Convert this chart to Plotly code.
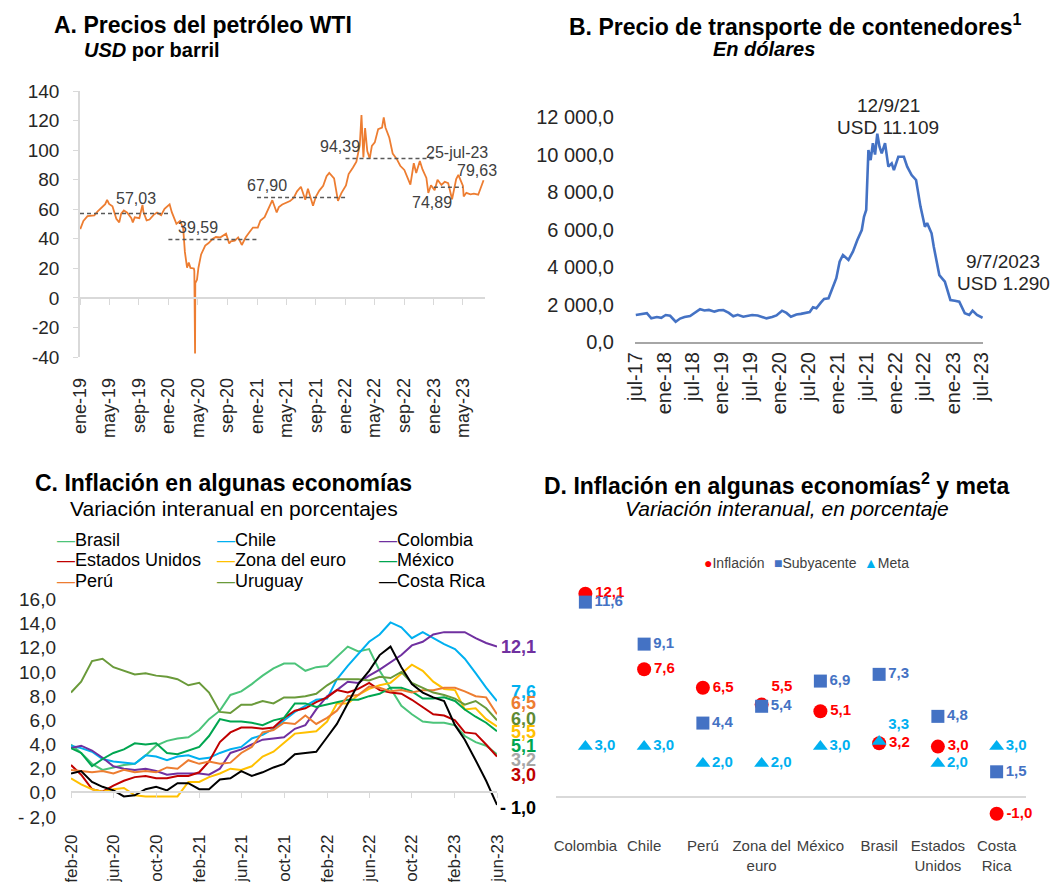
import plotly.graph_objects as go
import pandas as pd

W, H = 1063, 882
def px(x): return x / W
def py(y): return 1 - y / H

FONT = "Liberation Sans, Arial, sans-serif"
NARROW = "Liberation Sans, Arial, sans-serif"
TXT = "#262626"

# ---------------- A. WTI ----------------
wti_dates = [
    "2019-01-02","2019-01-15","2019-02-01","2019-02-15","2019-03-01","2019-03-15","2019-04-01","2019-04-15","2019-04-23","2019-05-01",
    "2019-05-15","2019-05-31","2019-06-12","2019-06-20","2019-07-01","2019-07-15","2019-08-01","2019-08-07","2019-08-15","2019-09-03",
    "2019-09-16","2019-09-20","2019-10-03","2019-10-15","2019-11-01","2019-11-15","2019-12-02","2019-12-16",
    "2020-01-06","2020-01-15","2020-02-03","2020-02-18","2020-03-02","2020-03-09","2020-03-18","2020-03-25","2020-04-01","2020-04-15",
    "2020-04-17","2020-04-20","2020-04-21","2020-04-28","2020-05-04","2020-05-15","2020-06-01","2020-06-15","2020-07-01","2020-07-15",
    "2020-08-03","2020-08-14","2020-08-26","2020-09-08","2020-09-15","2020-10-01","2020-10-15","2020-10-30","2020-11-16","2020-12-01","2020-12-15",
    "2021-01-04","2021-01-15","2021-02-01","2021-02-16","2021-03-05","2021-03-23","2021-04-01","2021-04-15","2021-05-03","2021-05-17",
    "2021-06-01","2021-06-15","2021-07-01","2021-07-19","2021-07-30","2021-08-20","2021-09-01","2021-09-15","2021-10-01","2021-10-15",
    "2021-10-26","2021-11-15","2021-12-01","2021-12-15",
    "2022-01-03","2022-01-14","2022-02-01","2022-02-15","2022-03-01","2022-03-08","2022-03-16","2022-03-23","2022-04-01","2022-04-11",
    "2022-04-20","2022-05-02","2022-05-16","2022-06-01","2022-06-08","2022-06-15","2022-07-01","2022-07-15","2022-08-01","2022-08-15",
    "2022-09-01","2022-09-26","2022-10-10","2022-10-20","2022-11-04","2022-11-15","2022-12-01","2022-12-09","2022-12-20",
    "2023-01-04","2023-01-16","2023-02-01","2023-02-15","2023-03-01","2023-03-17","2023-04-03","2023-04-12","2023-05-01","2023-05-04",
    "2023-05-15","2023-06-01","2023-06-15","2023-07-03","2023-07-14","2023-07-25"]
wti_values = [
    46.5, 52.1, 55.3, 55.6, 55.8, 58.5, 61.6, 63.4, 66.3, 63.6,
    62.0, 53.5, 51.1, 57.0, 59.1, 57.6, 53.9, 51.1, 54.5, 53.9,
    62.9, 58.1, 52.5, 53.0, 56.2, 57.7, 56.0, 60.2,
    63.3, 58.0, 50.1, 52.1, 47.0, 31.1, 20.4, 24.0, 20.3, 19.9,
    18.3, -37.6, 10.0, 12.3, 20.4, 29.4, 35.4, 37.1, 39.8, 41.2,
    41.0, 42.0, 43.4, 36.8, 38.3, 38.7, 40.9, 35.8, 41.3, 44.6, 47.6,
    47.6, 52.4, 54.6, 60.0, 66.1, 57.8, 61.4, 63.2, 64.5, 65.5,
    67.7, 72.1, 75.2, 66.4, 73.9, 62.3, 68.6, 72.6, 75.9, 82.3,
    84.6, 80.9, 65.6, 70.9,
    76.1, 83.8, 88.2, 92.1, 103.4, 123.7, 95.0, 114.9, 99.3, 94.3,
    102.8, 105.2, 114.2, 115.3, 122.1, 115.3, 108.4, 97.6, 93.9, 89.4,
    86.6, 76.7, 91.1, 84.5, 92.6, 86.9, 81.2, 71.0, 76.2,
    72.8, 79.9, 76.4, 78.6, 77.7, 66.7, 80.4, 83.3, 75.7, 68.6,
    71.1, 70.1, 70.6, 69.8, 75.4, 79.6]
avg_starts = ["2019-01-01", "2020-01-01", "2021-01-01", "2022-01-01", "2023-01-01"]
avg_ends = ["2019-12-31", "2020-12-31", "2021-12-31", "2022-12-31", "2023-04-30"]
avg_values = [57.03, 39.59, 67.90, 94.39, 74.89]
wti_last_label = "25-jul-23"
wti_last_value = 79.63

# ---------------- B. Containers ----------------
cont_dates = [
    "2017-07-06","2017-08-10","2017-09-14","2017-10-12","2017-11-16","2017-12-14","2018-01-11","2018-02-08","2018-03-15","2018-04-12",
    "2018-05-10","2018-06-14","2018-07-12","2018-08-16","2018-09-13","2018-10-11","2018-11-15","2018-12-13","2019-01-10","2019-02-14",
    "2019-03-14","2019-04-11","2019-05-16","2019-06-13","2019-07-11","2019-08-15","2019-09-12","2019-10-10","2019-11-14","2019-12-12",
    "2020-01-16","2020-02-13","2020-03-12","2020-04-16","2020-05-14","2020-06-11","2020-07-09","2020-07-30","2020-08-20","2020-09-17",
    "2020-10-08","2020-11-05","2020-12-03","2020-12-24","2021-01-14","2021-02-04","2021-03-11","2021-04-08","2021-05-06","2021-06-03",
    "2021-06-17","2021-07-01","2021-07-15","2021-07-29","2021-08-12","2021-08-26","2021-09-09","2021-09-23","2021-10-07","2021-10-28",
    "2021-11-18","2021-12-09","2021-12-23","2022-01-20","2022-02-24","2022-03-17","2022-04-14","2022-05-12","2022-06-09","2022-07-07",
    "2022-07-21","2022-08-18","2022-09-01","2022-10-06","2022-11-10","2022-12-15","2023-01-12","2023-02-09","2023-03-16","2023-04-13",
    "2023-05-04","2023-06-01","2023-07-06"]
cont_values = [
    1440, 1480, 1540, 1260, 1330, 1290, 1440, 1400, 1080, 1250,
    1330, 1380, 1550, 1750, 1680, 1710, 1620, 1690, 1700, 1550,
    1370, 1450, 1350, 1400, 1440, 1410, 1330, 1260, 1330, 1420,
    1670, 1550, 1350, 1470, 1500, 1530, 1600, 1850, 1800, 2100,
    2300, 2330, 2900, 3400, 4280, 4640, 4380, 4820, 5440, 5970,
    6680, 7040, 10240, 9700, 10600, 10000, 11109, 10420, 10060, 10600,
    9350, 9530, 9170, 9880, 9880, 9350, 8900, 8640, 7220, 6150,
    6340, 5800, 5080, 3570, 3220, 2240, 2200, 2150, 1530, 1440,
    1670, 1440, 1290]

# ---------------- C. Inflation lines ----------------
c_months = pd.date_range("2020-02-01", periods=41, freq="MS")
c_series = {
    "Brasil": [4.0, 3.3, 2.4, 1.9, 2.1, 2.3, 2.4, 3.1, 3.9, 4.3, 4.5, 4.6, 5.2, 6.1, 6.8, 8.1, 8.4, 9.0, 9.7, 10.3,
               10.7, 10.7, 10.1, 10.4, 10.5, 11.3, 12.1, 11.7, 11.9, 10.1, 8.7, 7.2, 6.5, 5.9, 5.8, 5.8, 5.6, 4.7, 4.2, 3.9, 3.2],
    "Chile": [3.9, 3.7, 3.4, 2.8, 2.6, 2.5, 2.4, 3.1, 3.0, 2.7, 3.0, 3.1, 2.8, 2.9, 3.3, 3.6, 3.8, 4.5, 4.8, 5.3,
              6.0, 6.7, 7.2, 7.7, 7.8, 9.4, 10.5, 11.5, 12.5, 13.1, 14.1, 13.7, 12.8, 13.3, 12.8, 12.3, 11.9, 11.1, 9.9, 8.7, 7.6],
    "Colombia": [3.7, 3.9, 3.5, 2.9, 2.2, 2.0, 1.9, 2.0, 1.8, 1.5, 1.6, 1.6, 1.6, 1.5, 2.0, 3.3, 3.6, 4.0, 4.4, 4.5,
                 4.6, 5.3, 5.6, 6.9, 8.0, 8.5, 9.2, 9.1, 9.7, 10.2, 10.8, 11.4, 12.2, 12.5, 13.1, 13.3, 13.3, 13.3, 12.8, 12.4, 12.1],
    "Estados Unidos": [2.3, 1.5, 0.3, 0.1, 0.6, 1.0, 1.3, 1.4, 1.2, 1.2, 1.4, 1.4, 1.7, 2.6, 4.2, 5.0, 5.4, 5.4, 5.3, 5.4,
                       6.2, 6.8, 7.0, 7.5, 7.9, 8.5, 8.3, 8.6, 9.1, 8.5, 8.3, 8.2, 7.7, 7.1, 6.5, 6.4, 6.0, 5.0, 4.9, 4.0, 3.0],
    "Zona del euro": [1.2, 0.7, 0.3, 0.1, 0.3, 0.4, -0.2, -0.3, -0.3, -0.3, -0.3, 0.9, 0.9, 1.3, 1.6, 2.0, 1.9, 2.2, 3.0, 3.4,
                      4.1, 4.9, 5.0, 5.1, 5.9, 7.4, 7.4, 8.1, 8.6, 8.9, 9.1, 9.9, 10.6, 10.1, 9.2, 8.6, 8.5, 6.9, 7.0, 6.1, 5.5],
    "México": [3.7, 3.3, 2.2, 2.8, 3.3, 3.6, 4.1, 4.0, 4.1, 3.3, 3.2, 3.5, 3.8, 4.7, 6.1, 5.9, 5.9, 5.8, 5.6, 6.0,
               6.2, 7.4, 7.4, 7.1, 7.3, 7.5, 7.7, 7.7, 8.0, 8.2, 8.7, 8.7, 8.4, 7.8, 7.8, 7.9, 7.6, 6.9, 6.3, 5.8, 5.1],
    "Perú": [1.9, 1.8, 1.7, 1.8, 1.6, 1.9, 1.7, 1.8, 1.7, 2.1, 2.0, 2.7, 2.4, 2.6, 2.4, 2.5, 3.3, 3.8, 5.0, 5.2,
             5.8, 5.7, 6.4, 5.7, 6.2, 6.8, 8.0, 8.1, 8.8, 8.7, 8.4, 8.5, 8.3, 8.5, 8.5, 8.7, 8.7, 8.4, 8.0, 7.9, 6.5],
    "Uruguay": [8.3, 9.2, 10.9, 11.1, 10.4, 10.1, 9.8, 9.9, 9.7, 9.6, 9.4, 8.9, 9.1, 8.3, 6.7, 6.6, 7.3, 7.3, 7.6, 7.4,
                7.9, 7.9, 8.0, 8.2, 8.9, 9.4, 9.4, 9.4, 9.3, 9.6, 9.5, 10.0, 9.1, 8.7, 8.3, 8.1, 7.8, 7.3, 7.6, 7.0, 6.0],
    "Costa Rica": [1.6, 1.8, 0.9, 0.5, 0.2, -0.3, -0.2, 0.3, 0.5, 0.2, 0.8, 0.8, 0.3, 0.3, 1.1, 1.2, 1.8, 1.4, 1.7, 2.1,
                   2.4, 3.2, 3.3, 3.4, 4.6, 5.7, 7.4, 9.0, 10.1, 11.4, 12.1, 10.4, 9.0, 8.3, 7.9, 7.6, 5.6, 4.4, 2.7, 1.0, -1.0],
}
c_colors = {
    "Brasil": "#4cc47a", "Chile": "#00b0f0", "Colombia": "#7030a0",
    "Estados Unidos": "#c00000", "Zona del euro": "#ffc000", "México": "#00a650",
    "Perú": "#ed7d31", "Uruguay": "#6a9a3a", "Costa Rica": "#000000",
}
c_label_colors = dict(c_colors, Brasil="#a6a6a6", Uruguay="#5f8a33")
c_label_pos = {"Colombia": 647, "Chile": 692, "Perú": 703, "Uruguay": 719, "Zona del euro": 732,
               "México": 746, "Brasil": 760, "Estados Unidos": 775, "Costa Rica": 808}
c_legend_cols = [["Brasil", "Estados Unidos", "Perú"], ["Chile", "Zona del euro", "Uruguay"],
                 ["Colombia", "México", "Costa Rica"]]

# ---------------- D. Inflation vs target ----------------
d_countries = ["Colombia", "Chile", "Perú", "Zona del<br>euro", "México", "Brasil", "Estados<br>Unidos", "Costa<br>Rica"]
d_inflacion = [12.1, 7.6, 6.5, 5.5, 5.1, 3.2, 3.0, -1.0]
d_subyacente = [11.6, 9.1, 4.4, 5.4, 6.9, 7.3, 4.8, 1.5]
d_meta = [3.0, 3.0, 2.0, 2.0, 3.0, 3.3, 2.0, 3.0]

MES = ["ene", "feb", "mar", "abr", "may", "jun", "jul", "ago", "sep", "oct", "nov", "dic"]
def mlabel(d): return f"{MES[d.month-1]}-{d.year % 100:02d}"
def fmt(v): return f"{v:.1f}".replace(".", ",")
def fmt2(v): return f"{v:.2f}".replace(".", ",")

fig = go.Figure()

# A traces
fig.add_trace(go.Scatter(x=wti_dates, y=wti_values, mode="lines", line=dict(color="#ed7d31", width=1.8),
                         xaxis="x", yaxis="y", showlegend=False))
ax, ay = [], []
for s, e, v in zip(avg_starts, avg_ends, avg_values):
    ax += [s, e, None]; ay += [v, v, None]
fig.add_trace(go.Scatter(x=ax, y=ay, mode="lines", line=dict(color="#595959", width=1.5, dash="4px,3px"),
                         xaxis="x", yaxis="y", showlegend=False))

# B trace
fig.add_trace(go.Scatter(x=cont_dates, y=cont_values, mode="lines", line=dict(color="#4472c4", width=2.6),
                         xaxis="x2", yaxis="y2", showlegend=False))

# C traces
for name in ["Brasil", "Chile", "Colombia", "Estados Unidos", "Zona del euro", "México", "Perú", "Uruguay", "Costa Rica"]:
    fig.add_trace(go.Scatter(x=c_months, y=c_series[name], mode="lines", name=name,
                             line=dict(color=c_colors[name], width=2), xaxis="x3", yaxis="y3", showlegend=False))

# D traces
def dpos(vals, overrides):
    return [overrides.get(i, "middle right") for i in range(len(vals))]
DFONT = 15
fig.add_trace(go.Scatter(x=d_countries, y=d_inflacion, mode="markers+text", name="Inflación",
                         marker=dict(symbol="circle", size=14, color="#ff0000"),
                         text=[fmt(v) for v in d_inflacion], textposition=dpos(d_inflacion, {3: "top right"}),
                         textfont=dict(family=NARROW, size=DFONT, color="#ff0000", weight="bold"),
                         xaxis="x4", yaxis="y4", showlegend=False, cliponaxis=False))
fig.add_trace(go.Scatter(x=d_countries, y=d_subyacente, mode="markers+text", name="Subyacente",
                         marker=dict(symbol="square", size=13, color="#4472c4"),
                         text=[fmt(v) for v in d_subyacente], textposition=dpos(d_subyacente, {}),
                         textfont=dict(family=NARROW, size=DFONT, color="#4472c4", weight="bold"),
                         xaxis="x4", yaxis="y4", showlegend=False, cliponaxis=False))
fig.add_trace(go.Scatter(x=d_countries, y=d_meta, mode="markers+text", name="Meta",
                         marker=dict(symbol="triangle-up", size=13, color="#00b0f0"),
                         text=[fmt(v) for v in d_meta], textposition=dpos(d_meta, {5: "top right"}),
                         textfont=dict(family=NARROW, size=DFONT, color="#00b0f0", weight="bold"),
                         xaxis="x4", yaxis="y4", showlegend=False, cliponaxis=False))

# ticks
a_ticks = pd.date_range("2019-01-01", "2023-05-01", freq="4MS")
b_ticks = pd.date_range("2017-07-01", "2023-07-01", freq="6MS")
c_ticks = pd.date_range("2020-02-01", "2023-06-01", freq="4MS")
a_yt = list(range(-40, 141, 20))
b_yt = list(range(0, 12001, 2000))
c_yt = list(range(-2, 17, 2))

def bfmt(v):
    return f"{v:,.1f}".replace(",", " ").replace(".", ",")

annotations = []
def ann(x, y, text, size=16, color=TXT, xanchor="center", family=FONT, **kw):
    annotations.append(dict(x=px(x), y=py(y), xref="paper", yref="paper", text=text, showarrow=False,
                            xanchor=xanchor, yanchor="middle", font=dict(family=family, size=size, color=color), **kw))

# titles
ann(52, 25, "<b>A. Precios del petróleo WTI</b>", 23, "#000", "left")
ann(82, 50, "<b><i>USD</i> por barril</b>", 20, "#000", "left")
ann(567, 25, "<b>B. Precio de transporte de contenedores<sup>1</sup></b>", 23, "#000", "left")
ann(764, 49, "<b><i>En dólares</i></b>", 20, "#000", "center")
ann(33, 483, "<b>C. Inflación en algunas economías</b>", 23, "#000", "left")
ann(68, 508, "Variación interanual en porcentajes", 21, "#000", "left")
ann(542, 484, "<b>D. Inflación en algunas economías<sup>2</sup> y meta</b>", 23, "#000", "left")
ann(787, 508, "<i>Variación interanual, en porcentaje</i>", 21, "#000", "center")

# A labels
ann(136, 198, fmt2(avg_values[0]), 16, "#404040")
ann(198, 227, fmt2(avg_values[1]), 16, "#404040")
ann(267, 185, fmt2(avg_values[2]), 16, "#404040")
ann(340, 147, fmt2(avg_values[3]), 16, "#404040")
ann(432, 203, fmt2(avg_values[4]), 16, "#404040")
ann(457, 152, wti_last_label, 16, "#404040")
ann(477, 170, fmt2(wti_last_value), 16, "#404040")

# B labels
ann(888, 106, "12/9/21", 19, TXT)
ann(888, 127, "USD 11.109", 19, TXT)
ann(1003, 262, "9/7/2023", 19, TXT)
ann(1003, 283, "USD 1.290", 19, TXT)

# C end labels
for name, ypix in c_label_pos.items():
    v = c_series[name][-1]
    t = fmt(v) if v >= 0 else "- " + fmt(-v)
    ann(538, ypix, f"<b>{t}</b>", 18, c_label_colors[name], "right")

# C legend
col_x = [55, 215, 377]
row_y = [540, 560, 581]
for cx, names in zip(col_x, c_legend_cols):
    for ry, name in zip(row_y, names):
        ann(cx, ry, f"<span style='color:{c_colors[name]}'>—</span>{name}", 18, "#000", "left")

# D legend
ann(702, 563, "<span style='color:#ff0000'>●</span>Inflación", 14, "#404040", "left", NARROW)
ann(772, 563, "<span style='color:#4472c4'>■</span>Subyacente", 14, "#404040", "left", NARROW)
ann(862, 563, "<span style='color:#00b0f0'>▲</span>Meta", 14, "#404040", "left", NARROW)

fig.update_layout(
    template="none",
    width=W, height=H, margin=dict(l=0, r=0, t=0, b=0, autoexpand=False),
    paper_bgcolor="white", plot_bgcolor="white",
    font=dict(family=FONT, color=TXT),
    showlegend=False,
    annotations=annotations,
    xaxis=dict(domain=[px(80), px(485)], range=["2019-01-01", "2023-07-31"], anchor="free", position=py(298),
               showline=True, linecolor="#d9d9d9", linewidth=1.5, ticks="outside", ticklen=6, tickcolor="#d9d9d9",
               tickvals=a_ticks, ticktext=[mlabel(d) for d in a_ticks], tickangle=-90, tickfont=dict(size=18, color=TXT),
               ticklabelstandoff=66, showgrid=False, zeroline=False, automargin=False),
    yaxis=dict(domain=[py(357), py(91)], range=[-40, 140], anchor="x", tickvals=a_yt, ticktext=[str(v) for v in a_yt],
               showline=True, linecolor="#d9d9d9", linewidth=1.5, ticks="outside", ticklen=5, tickcolor="#d9d9d9",
               tickfont=dict(size=19, color=TXT), ticklabelstandoff=10, showgrid=False, zeroline=False, automargin=False),
    xaxis2=dict(domain=[px(635), px(983)], range=["2017-07-01", "2023-07-09"], anchor="y2",
                showline=True, linecolor="#a6a6a6", linewidth=2, ticks="",
                tickvals=b_ticks, ticktext=[mlabel(d) for d in b_ticks], tickangle=-90, tickfont=dict(size=20, color=TXT),
                showgrid=False, zeroline=False, automargin=False),
    yaxis2=dict(domain=[py(342), py(117)], range=[0, 12000], anchor="x2", tickvals=b_yt, ticktext=[bfmt(v) for v in b_yt],
                showline=False, ticks="", tickfont=dict(size=20, color=TXT), ticklabelstandoff=20,
                showgrid=False, zeroline=False, automargin=False),
    xaxis3=dict(domain=[px(71), px(497)], range=["2020-02-01", "2023-06-01"], anchor="free", position=py(792),
                showline=True, linecolor="#d9d9d9", linewidth=1.5, ticks="outside", ticklen=5, tickcolor="#d9d9d9",
                tickvals=c_ticks, ticktext=[mlabel(d) for d in c_ticks], tickangle=-90, tickfont=dict(size=17, color=TXT),
                ticklabelstandoff=30, showgrid=False, zeroline=False, automargin=False),
    yaxis3=dict(domain=[py(817), py(599.5)], range=[-2, 16], anchor="x3", tickvals=c_yt,
                ticktext=[fmt(v) if v >= 0 else "- " + fmt(-v) for v in c_yt],
                showline=False, ticks="", tickfont=dict(size=19, color=TXT), ticklabelstandoff=14,
                showgrid=False, zeroline=False, automargin=False),
    xaxis4=dict(domain=[px(556), px(1026)], type="category", range=[-0.5, 7.5], anchor="y4",
                showline=False, ticks="", tickangle=0, tickfont=dict(family=NARROW, size=15, color="#404040"),
                showgrid=False, zeroline=False, automargin=False),
    yaxis4=dict(domain=[py(835), py(580)], range=[-38 / 16.8, 217 / 16.8], anchor="x4", showticklabels=False,
                showline=False, ticks="", showgrid=False, zeroline=True, zerolinecolor="#d9d9d9", zerolinewidth=1.5,
                automargin=False),
)

fig.write_html("out.html", config={"displayModeBar": False},
               post_script="document.body.style.margin='0px';document.body.style.overflow='hidden';")
